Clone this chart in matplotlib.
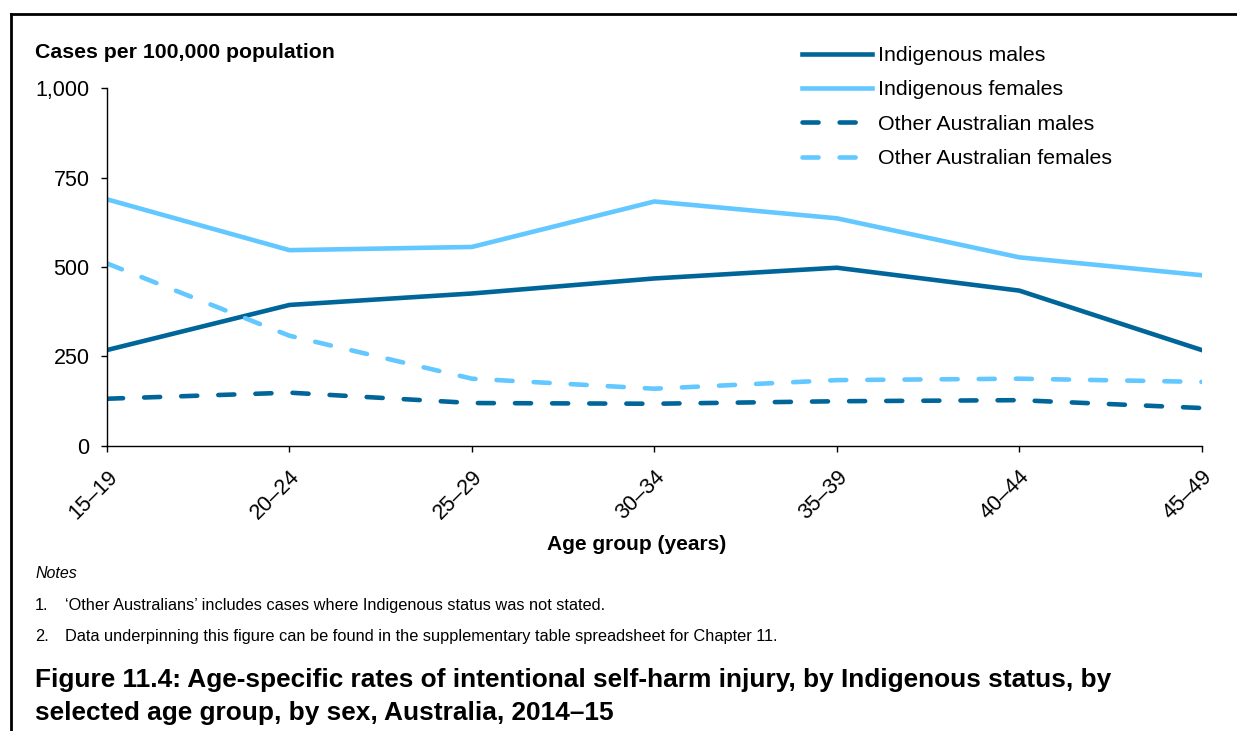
import numpy as np
import matplotlib
matplotlib.use("Agg")
import matplotlib.pyplot as plt
from matplotlib.lines import Line2D

plt.rcParams['font.family'] = ['Liberation Sans', 'DejaVu Sans']

# age groups and rates (cases per 100,000 population)
age_groups = ['15–19', '20–24', '25–29', '30–34', '35–39', '40–44', '45–49']
indig_males = [268, 394, 426, 468, 498, 434, 268]
indig_females = [689, 547, 556, 683, 636, 527, 477]
other_males = [132, 149, 120, 118, 125, 128, 106]
other_females = [510, 308, 188, 160, 184, 188, 179]

dark = '#00669A'
light = '#62C8FF'

fig = plt.figure(figsize=(12.37, 7.31), dpi=100)
ax = fig.add_axes([0.0865, 0.3899, 0.885, 0.4897])

x = np.arange(len(age_groups))
lw = 3.3
dash = (0, (3.5, 4.6))
ax.plot(x, indig_males, color=dark, lw=lw, label='Indigenous males')
ax.plot(x, indig_females, color=light, lw=lw, label='Indigenous females')
ax.plot(x, other_males, color=dark, lw=lw, ls=dash,
        dash_capstyle='round', label='Other Australian males')
ax.plot(x, other_females, color=light, lw=lw, ls=dash,
        dash_capstyle='round', label='Other Australian females')

ax.set_xlim(0, len(age_groups) - 1)
ax.set_ylim(0, 1000)
ax.set_yticks([0, 250, 500, 750, 1000])
ax.set_yticklabels(['0', '250', '500', '750', '1,000'])
ax.set_xticks(x)
ax.set_xticklabels(age_groups, rotation=45, ha='right', va='top',
                   rotation_mode='anchor')
ax.tick_params(labelsize=15.5, length=4.5, width=1, direction='out', pad=8)
ax.tick_params(axis='x', pad=10)
for s in ['top', 'right']:
    ax.spines[s].set_visible(False)
for s in ['left', 'bottom']:
    ax.spines[s].set_linewidth(1)

leg = ax.legend(loc='upper left', bbox_to_anchor=(0.617, 1.171), frameon=False,
                fontsize=15.4, handlelength=3.3, handletextpad=0.28,
                labelspacing=0.72)

fig.text(35 / 1237, 1 - 53 / 731, 'Cases per 100,000 population',
         fontsize=15.3, fontweight='bold', va='center', ha='left')
fig.text(637 / 1237, 1 - 545 / 731, 'Age group (years)',
         fontsize=15, fontweight='bold', va='center', ha='center')

fig.text(35 / 1237, 1 - 574 / 731, 'Notes', fontsize=11.5, style='italic',
         va='center')
notes = ["‘Other Australians’ includes cases where Indigenous status was not stated.",
         'Data underpinning this figure can be found in the supplementary table spreadsheet for Chapter 11.']
for i, n in enumerate(notes):
    yy = 1 - (610 + 31 * i) / 731
    fig.text(35 / 1237, yy, f'{i + 1}.', fontsize=11.8, va='baseline')
    fig.text(65 / 1237, yy, n, fontsize=11.8, va='baseline')

fig.text(35 / 1237, 1 - 680 / 731,
         'Figure 11.4: Age-specific rates of intentional self-harm injury, by Indigenous status, by',
         fontsize=18.9, fontweight='bold', va='center')
fig.text(35 / 1237, 1 - 713 / 731,
         'selected age group, by sex, Australia, 2014–15',
         fontsize=18.9, fontweight='bold', va='center')

# frame around the figure
fx = 11 / 1237
fy = 1 - 14 / 731
fig.add_artist(Line2D([fx, fx], [0, fy], color='black', lw=2,
                      transform=fig.transFigure, solid_capstyle='projecting'))
fig.add_artist(Line2D([fx, 1], [fy, fy], color='black', lw=2,
                      transform=fig.transFigure, solid_capstyle='projecting'))

fig.savefig('out.png', dpi=100)
